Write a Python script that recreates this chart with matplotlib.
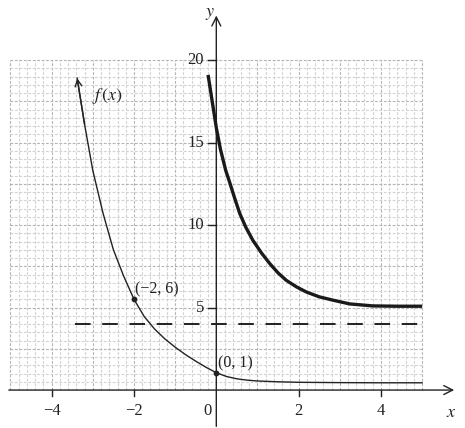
import numpy as np
import matplotlib
matplotlib.use("Agg")
import matplotlib.pyplot as plt

plt.rcParams["mathtext.fontset"] = "stix"

# Thin curve f(x)
f_x = [-3.38, -3.2, -3.0, -2.75, -2.5, -2.25, -2.0, -1.75, -1.5, -1.25, -1.0, -0.75, -0.5, -0.25, 0.0, 0.25, 0.5, 0.75, 1.0, 1.5, 2.0, 3.0, 4.0, 5.0]
f_y = [18.9, 16.1, 13.3, 10.7, 8.5, 6.9, 5.5, 4.45, 3.7, 3.1, 2.6, 2.15, 1.75, 1.38, 1.05, 0.82, 0.68, 0.6, 0.55, 0.5, 0.47, 0.45, 0.44, 0.44]

# Bold curve
g_x = [-0.2, -0.1, 0.0, 0.1, 0.23, 0.31, 0.45, 0.57, 0.72, 0.89, 1.1, 1.3, 1.5, 1.7, 1.95, 2.19, 2.5, 2.83, 3.24, 3.8, 4.4, 5.0]
g_y = [19.1, 17.5, 15.9, 14.6, 13.3, 12.7, 11.6, 10.7, 9.85, 9.07, 8.3, 7.66, 7.1, 6.65, 6.25, 5.94, 5.65, 5.45, 5.22, 5.1, 5.08, 5.08]

asymptote_y = 4.03
dash_x = [-3.43, 5.0]

points_x = [-2.0, 0.0]
points_y = [5.5, 1.05]
point_labels = ["(\u22122, 6)", "(0, 1)"]

xticks = [-4, -2, 0, 2, 4]
xtick_labels = ["\u22124", "\u22122", "0", "2", "4"]
yticks = [5, 10, 15, 20]
ytick_labels = ["5", "10", "15", "20"]

serif = "Liberation Serif"
ink = "#222222"

fig = plt.figure(figsize=(4.65, 4.28), dpi=100)
ax = fig.add_axes([0, 0, 1, 1])
ax.set_xlim(-5.255, 6.042)
ax.set_ylim(-2.30, 23.64)
ax.axis("off")

# grid
for gx in np.arange(-5, 5.001, 0.2):
    major = abs(gx - round(gx)) < 1e-6
    ax.plot([gx, gx], [0, 20], color="#b4b4b4" if major else "#d2d2d2",
            lw=0.8, ls=(0, (2.5, 1.5)), zorder=1)
for gy in np.arange(0.5, 20.001, 0.5):
    major = abs(gy / 2.5 - round(gy / 2.5)) < 1e-6
    ax.plot([-5, 5], [gy, gy], color="#b4b4b4" if major else "#d2d2d2",
            lw=0.8, ls=(0, (2.5, 1.5)), zorder=1)

# axes with arrows
ax.annotate("", xy=(5.78, 0), xytext=(-5.04, 0),
            arrowprops=dict(arrowstyle="->", lw=1.0, color=ink,
                            mutation_scale=16, shrinkA=0, shrinkB=0), zorder=3)
ax.annotate("", xy=(0, 22.7), xytext=(0, -2.2),
            arrowprops=dict(arrowstyle="->", lw=1.0, color=ink,
                            mutation_scale=16, shrinkA=0, shrinkB=0), zorder=3)
ax.text(5.72, -1.3, "$x$", fontsize=13, ha="center", va="center", color=ink)
ax.text(-0.16, 22.85, "$y$", fontsize=13, ha="center", va="center", color=ink)

# ticks
for t, lab in zip(xticks, xtick_labels):
    if t != 0:
        ax.plot([t, t], [0, -0.38], color=ink, lw=1.0, zorder=3)
        ax.text(t, -1.25, lab, family=serif, fontsize=12, ha="center", va="center",
                color=ink)
    else:
        ax.text(-0.22, -1.25, lab, family=serif, fontsize=12, ha="center", va="center",
                color=ink)
for t, lab in zip(yticks, ytick_labels):
    ax.plot([-0.2, 0], [t, t], color=ink, lw=1.0, zorder=3)
    ax.text(-0.3, t, lab, family=serif, fontsize=12, ha="right", va="center",
            color=ink)

# dashed asymptote
ax.plot(dash_x, [asymptote_y, asymptote_y], color=ink, lw=1.4,
        ls=(0, (8, 6)), zorder=4)

# curves
ax.plot(f_x, f_y, color=ink, lw=1.0, zorder=5)
ax.annotate("", xy=(f_x[0], f_y[0]), xytext=(f_x[1], f_y[1]),
            arrowprops=dict(arrowstyle="->", lw=1.0, color=ink,
                            mutation_scale=12, shrinkA=0, shrinkB=0), zorder=5)
ax.plot(g_x, g_y, color="#1a1a1a", lw=2.4, zorder=5, solid_capstyle="butt")

# points
ax.scatter(points_x, points_y, s=10, color=ink, zorder=6)
ax.text(-1.97, 6.1, point_labels[0], family=serif, fontsize=11.5, ha="left",
        va="center", color=ink)
ax.text(0.05, 1.6, point_labels[1], family=serif, fontsize=11.5, ha="left",
        va="center", color=ink)
ax.text(-3.03, 17.85, "$f\\,(x)$", fontsize=13, ha="left", va="center", color=ink)

fig.savefig("out.png", dpi=100, facecolor="white")
